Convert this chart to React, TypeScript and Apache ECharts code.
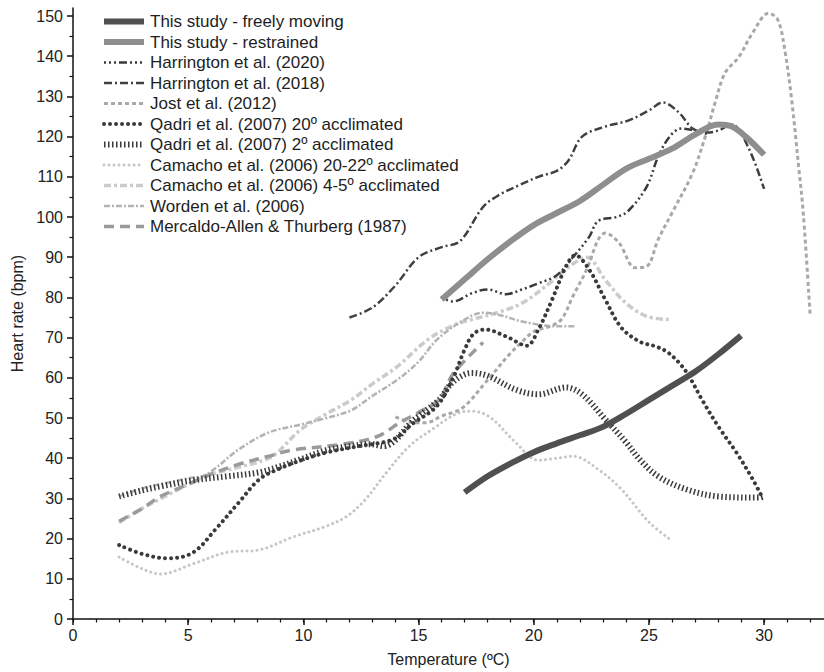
import React, { useEffect, useRef } from "react";
import * as echarts from "echarts";

const FONT = "'Liberation Sans', Arial, Helvetica, sans-serif";

const xMajorTicks = [0, 5, 10, 15, 20, 25, 30];
const xMinorTicks = [0, 1, 2, 3, 4, 5, 6, 7, 8, 9, 10, 11, 12, 13, 14, 15, 16, 17, 18, 19, 20, 21, 22, 23, 24, 25, 26, 27, 28, 29, 30, 31, 32];
const yMajorTicks = [0, 10, 20, 30, 40, 50, 60, 70, 80, 90, 100, 110, 120, 130, 140, 150];
const yMinorTicks = [5, 15, 25, 35, 45, 55, 65, 75, 85, 95, 105, 115, 125, 135, 145];

const freelyMoving = [[17, 31.5], [18, 35.5], [19, 38.7], [20, 41.5], [21, 43.7], [22, 45.7], [23, 47.8], [24, 51], [25, 54.5], [26, 58], [27, 61.5], [28, 65.8], [29, 70.5]];
const restrained = [[16, 79.5], [17, 84.5], [18, 89.5], [19, 94], [20, 98], [21, 101], [22, 104], [23, 108], [24, 112], [25, 114.5], [26, 117], [27, 120.5], [28, 123], [28.6, 122.5], [29.2, 120], [30, 115.5]];
const harrington2020 = [[16, 80], [16.5, 79], [17.3, 81], [18, 82], [18.8, 80.8], [19.5, 82], [20.2, 83.5], [21, 85.5], [21.7, 90], [22.4, 95], [22.8, 99], [23.6, 100], [24.1, 101.5], [24.9, 107.5], [25.4, 115], [25.9, 120], [26.4, 122], [27, 121.5], [27.6, 120.5]];
const harrington2018 = [[12, 75], [13, 77.5], [14, 83], [15, 90], [16, 92.5], [16.8, 94], [17.8, 102.5], [18.5, 105.5], [19.4, 108], [20.2, 110], [21, 111.5], [21.5, 114], [22.1, 120], [23.1, 122.5], [24.1, 124], [25, 126.5], [25.6, 128.5], [26.3, 126], [26.9, 122], [27.5, 121], [28, 121.5], [28.6, 123], [29.3, 117.5], [30, 107]];
const jost2012 = [[14, 50.3], [14.6, 49], [15.3, 48.8], [16, 50.5], [16.9, 52.5], [17.9, 58.8], [19, 66.2], [19.5, 69], [20, 71.5], [20.7, 72.8], [21.2, 74.5], [21.7, 80.3], [22.3, 87], [22.8, 94.4], [23.1, 96], [23.7, 93.6], [24.4, 87.4], [24.9, 87.7], [25.4, 94.4], [26, 101], [26.9, 111], [27.5, 121], [27.9, 129], [28.3, 135.8], [28.9, 139.8], [29.5, 145.8], [30.2, 150.7], [30.6, 149], [30.9, 141.5], [31.2, 129], [31.5, 112.5], [31.7, 101], [32, 75.5]];
const qadri20 = [[2, 18.4], [3, 16.2], [4.1, 15.1], [5.2, 16.5], [6.2, 22.4], [7.2, 29], [8.1, 34.8], [9, 37.5], [9.8, 39.3], [11, 41.4], [12.4, 43], [13.9, 44.7], [14.7, 48.4], [15.8, 53], [16.5, 60], [17, 67], [17.4, 71], [17.9, 72], [18.8, 70.3], [19.7, 68], [20.2, 72], [20.8, 79.5], [21.4, 87.7], [21.8, 90.5], [22.4, 87], [23.1, 79.5], [23.8, 72.5], [24.6, 69], [25.3, 67.8], [25.8, 66.4], [26.3, 63.8], [26.7, 60.8], [27.3, 54.6], [28, 48], [28.8, 41.4], [29.5, 34.8], [29.9, 30.5]];
const qadri2 = [[2, 30.5], [3, 32], [3.8, 33], [5.2, 34.5], [6.7, 35.5], [8.1, 36.5], [9, 38], [10, 40], [11, 42], [12, 43], [12.9, 43.5], [13.5, 43], [14, 44.5], [14.7, 49], [15.9, 54.6], [16.5, 59], [17.3, 61.2], [18, 60.5], [19.2, 57.1], [20.2, 55.9], [21.4, 57.6], [22.1, 55.9], [23.1, 49.7], [24, 44], [24.6, 39.7], [25.4, 35.5], [26.6, 32.3], [28, 30.5], [29.8, 30.2], [30, 30.5]];
const camacho2022 = [[2, 15.4], [3, 12.5], [3.8, 11.2], [5.2, 13.7], [6.7, 16.6], [8.1, 17.2], [9.5, 20.3], [11, 23.1], [11.9, 25.6], [12.7, 29.8], [13.6, 36.4], [14.6, 43], [15.6, 47.2], [16.8, 51.4], [17.3, 51.7], [18.1, 50.2], [19.2, 44], [20.2, 39.5], [21, 40], [21.7, 40.5], [22.8, 37.2], [23.8, 32.3], [25, 24.1], [25.9, 19.9]];
const camacho45 = [[2, 24], [3, 27.5], [4, 30.5], [5, 33.5], [6, 36], [7, 37.5], [8, 39], [8.7, 40.6], [9.9, 47.2], [11, 51], [12.1, 54.6], [13, 58.5], [14.1, 62.9], [15.4, 69.5], [16.5, 73], [17.3, 74.5], [18.3, 76], [19.5, 78.6], [20.7, 83.6], [21.5, 87.5], [22.3, 90], [23.1, 84.4], [24, 78.6], [24.9, 75.3], [25.9, 74.5]];
const worden2006 = [[2, 30.5], [3, 32.5], [4, 33.8], [5, 35], [5.8, 36], [7.2, 42.2], [8.5, 46.4], [9.9, 48.4], [11, 50], [12.1, 52], [13, 55.5], [14.1, 59.6], [15, 64], [15.8, 69.5], [17, 74.5], [17.8, 76.2], [18.6, 75.5], [19.5, 74], [21, 72.8], [21.8, 72.8]];
const mercaldo1987 = [[2, 24.3], [3, 27.5], [3.8, 30.5], [5, 33.5], [5.8, 35.6], [7.2, 38.5], [8.5, 40.5], [9.5, 42], [11.7, 43.5], [13.2, 45.4], [14.2, 48.9], [15, 51.4], [15.9, 54.6], [16.5, 61], [17.8, 68.8]];

const seriesNames = [
  "This study - freely moving",
  "This study - restrained",
  "Harrington et al. (2020)",
  "Harrington et al. (2018)",
  "Jost et al. (2012)",
  "Qadri et al. (2007) 20º acclimated",
  "Qadri et al. (2007) 2º acclimated",
  "Camacho et al. (2006) 20-22º acclimated",
  "Camacho et al. (2006) 4-5º acclimated",
  "Worden et al. (2006)",
  "Mercaldo-Allen & Thurberg (1987)",
];

const seriesData = [freelyMoving, restrained, harrington2020, harrington2018, jost2012, qadri20, qadri2, camacho2022, camacho45, worden2006, mercaldo1987];

const seriesStyles: any[] = [
  { color: "#505050", width: 6, type: "solid", cap: "butt", z: 20 },
  { color: "#8e8e8e", width: 6, type: "solid", cap: "butt", z: 19 },
  { color: "#3a3a3a", width: 2.5, type: [2, 3, 2, 3, 2, 3, 8, 3], cap: "butt", z: 12 },
  { color: "#404040", width: 2.5, type: [8, 3, 2, 3], cap: "butt", z: 12 },
  { color: "#a8a8a8", width: 3, type: [4, 3], cap: "butt", z: 8 },
  { color: "#3a3a3a", width: 4, type: [0.01, 6], cap: "round", z: 11 },
  { color: "#3a3a3a", width: 6, type: [1.5, 2.5], cap: "butt", z: 10 },
  { color: "#c6c6c6", width: 3, type: [0.01, 5], cap: "round", z: 6 },
  { color: "#cbcbcb", width: 3.5, type: [7, 3, 3, 3], cap: "butt", z: 6 },
  { color: "#b3b3b3", width: 2.5, type: [6, 2, 2, 2], cap: "butt", z: 7 },
  { color: "#9b9b9b", width: 3.5, type: [10, 6], cap: "butt", z: 9 },
];

export default function App() {
  const ref = useRef<HTMLDivElement>(null);
  useEffect(() => {
    document.body.style.margin = "0";
    const chart = echarts.init(ref.current!, null, { renderer: "svg" });
    const axisColor = "#111";
    const labelStyle = { fontSize: 16, color: "#222", fontFamily: FONT };
    const option: any = {
      animation: false,
      backgroundColor: "#ffffff",
      textStyle: { fontFamily: FONT },
      grid: { left: 73, right: 0, top: 8, bottom: 52 },
      legend: {
        orient: "vertical",
        left: 96,
        top: 8,
        itemWidth: 40,
        itemHeight: 14,
        itemGap: 3.5,
        itemStyle: { opacity: 0 },
        textStyle: { fontSize: 17, lineHeight: 17, color: "#1e1e1e", fontFamily: FONT, padding: [0, 0, 0, 1] },
        data: seriesNames.map((name, i) => ({
          name,
          lineStyle: {
            width: seriesStyles[i].width,
            type: seriesStyles[i].type,
            cap: seriesStyles[i].cap,
            color: seriesStyles[i].color,
          },
        })),
      },
      xAxis: [
        {
          type: "value",
          min: 0,
          max: 32.6,
          position: "bottom",
          axisLine: { show: true, onZero: false, lineStyle: { color: axisColor, width: 1.5 } },
          axisTick: { show: true, customValues: xMajorTicks, length: 6, lineStyle: { color: axisColor, width: 1.5 } },
          axisLabel: { customValues: xMajorTicks, margin: 8, ...labelStyle },
          splitLine: { show: false },
          name: "Temperature (ºC)",
          nameLocation: "middle",
          nameGap: 32,
          nameTextStyle: { ...labelStyle },
        },
        {
          type: "value",
          min: 0,
          max: 32.6,
          position: "bottom",
          axisLine: { show: false, onZero: false },
          axisTick: { show: true, customValues: xMinorTicks, length: 3.5, lineStyle: { color: axisColor, width: 1.2 } },
          axisLabel: { show: false },
          splitLine: { show: false },
        },
      ],
      yAxis: [
        {
          type: "value",
          min: 0,
          max: 152,
          position: "left",
          axisLine: { show: true, onZero: false, lineStyle: { color: axisColor, width: 1.5 } },
          axisTick: { show: true, customValues: yMajorTicks, length: 6, lineStyle: { color: axisColor, width: 1.5 } },
          axisLabel: { customValues: yMajorTicks, margin: 10, ...labelStyle },
          splitLine: { show: false },
          name: "Heart rate (bpm)",
          nameLocation: "middle",
          nameGap: 38,
          nameTextStyle: { ...labelStyle },
        },
        {
          type: "value",
          min: 0,
          max: 152,
          position: "left",
          axisLine: { show: false, onZero: false },
          axisTick: { show: true, customValues: yMinorTicks, length: 3.5, lineStyle: { color: axisColor, width: 1.2 } },
          axisLabel: { show: false },
          splitLine: { show: false },
        },
      ],
      series: seriesNames.map((name, i) => ({
        name,
        type: "line",
        xAxisIndex: 0,
        yAxisIndex: 0,
        data: seriesData[i],
        smooth: 0.35,
        symbol: "none",
        showSymbol: false,
        z: seriesStyles[i].z,
        color: seriesStyles[i].color,
        itemStyle: { color: seriesStyles[i].color },
        lineStyle: {
          color: seriesStyles[i].color,
          width: seriesStyles[i].width,
          type: seriesStyles[i].type,
          cap: seriesStyles[i].cap,
        },
        emphasis: { disabled: true },
      })),
    };
    chart.setOption(option);
    return () => chart.dispose();
  }, []);
  return <div ref={ref} style={{ width: 824, height: 672 }} />;
}
